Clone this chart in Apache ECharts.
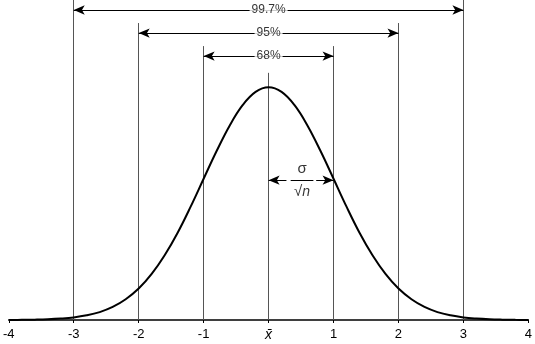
<!DOCTYPE html>
<html><head><meta charset="utf-8">
<script src="https://cdn.jsdelivr.net/npm/echarts@6/dist/echarts.min.js"></script>
<style>html,body{margin:0;padding:0;background:#fff}#c{width:535px;height:344px}</style>
</head><body><div id="c"></div>
<script>
// Curve samples (x in standard deviations, relative height)
const xValues = [-4,-3.8,-3.6,-3.4,-3.2,-3,-2.8,-2.6,-2.4,-2.2,-2,-1.8,-1.6,-1.4,-1.2,-1,-0.8,-0.6,-0.4,-0.2,0,0.2,0.4,0.6,0.8,1,1.2,1.4,1.6,1.8,2,2.2,2.4,2.6,2.8,3,3.2,3.4,3.6,3.8,4];
const curveValues = [0.0003,0.0007,0.0015,0.003,0.006,0.011,0.020,0.034,0.056,0.089,0.135,0.198,0.278,0.375,0.487,0.607,0.726,0.835,0.923,0.980,1.0,0.980,0.923,0.835,0.726,0.607,0.487,0.375,0.278,0.198,0.135,0.089,0.056,0.034,0.020,0.011,0.006,0.003,0.0015,0.0007,0.0003];
// Vertical guide lines: position and top height
const guideX = [-3,-2,-1,0,1,2,3];
const guideTop = [1.375,1.276,1.177,1.062,1.177,1.276,1.375];
// Interval arrows
const intervalLabels = ['99.7%','95%','68%'];
const intervalHalfWidth = [3,2,1];
const intervalY = [1.332,1.233,1.134];
// sigma / sqrt(n) arrow
const sigmaY = 0.601;
const tickLabels = {'-4':'-4','-3':'-3','-2':'-2','-1':'-1','0':'x̄','1':'1','2':'2','3':'3','4':'4'};

const FONT = '"Liberation Sans Narrow","Arial Narrow","Liberation Sans",sans-serif';
const chart = echarts.init(document.getElementById('c'));

const guideLines = guideX.map((x,i)=>[{coord:[x,0]},{coord:[x,guideTop[i]]}]);
const arrowLines = intervalLabels.map((lab,i)=>[
  {coord:[-intervalHalfWidth[i],intervalY[i]]},
  {coord:[intervalHalfWidth[i],intervalY[i]]}
]);
const arrowText = intervalLabels.map((lab,i)=>({value:[0,intervalY[i]],name:lab}));

chart.setOption({
  animation:false,
  grid:{left:6,right:5,top:0,bottom:24},
  xAxis:{type:'value',min:-4,max:4,interval:1,
    axisLine:{onZero:false,lineStyle:{color:'#000',width:1.5}},
    axisTick:{length:3,lineStyle:{color:'#000',width:1}},
    splitLine:{show:false},
    axisLabel:{color:'#000',fontSize:13,fontFamily:FONT,margin:8,
      formatter:v=>v===0?'{x|'+tickLabels['0']+'}':tickLabels[String(v)],
      rich:{x:{fontStyle:'italic',fontSize:14,fontFamily:FONT,color:'#000'}}}},
  yAxis:{type:'value',min:0,max:1.375,show:false},
  series:[
    {type:'line',data:xValues.map((x,i)=>[x,curveValues[i]]),smooth:0.4,symbol:'none',
      lineStyle:{color:'#000',width:2},z:5,
      markLine:{silent:true,symbol:'none',label:{show:false},
        lineStyle:{color:'#555',width:1,type:'solid'},data:guideLines}},
    {type:'line',data:[],markLine:{silent:true,symbol:['arrow','arrow'],symbolSize:[7,11],
      lineStyle:{color:'#000',width:1,type:'solid'},
      label:{show:false},
      data:arrowLines}},
    {type:'line',data:[],markLine:{silent:true,
      lineStyle:{color:'#000',width:1,type:'solid'},
      label:{show:false},
      data:[
        [{coord:[0,sigmaY],symbol:'arrow',symbolSize:[7,11]},{coord:[0.275,sigmaY],symbol:'none'}],
        [{coord:[0.733,sigmaY],symbol:'none'},{coord:[1,sigmaY],symbol:'arrow',symbolSize:[7,11]}],
        [{coord:[0.34,sigmaY],symbol:'none'},{coord:[0.69,sigmaY],symbol:'none'}]
      ]}},
    {type:'scatter',data:arrowText,symbol:'rect',symbolSize:0,silent:true,z:10,
      label:{show:true,position:'inside',formatter:'{b}',color:'#000',fontSize:12,fontFamily:FONT,
        backgroundColor:'#fff',padding:[1,2]}},
    {type:'scatter',data:[{value:[0.515,sigmaY],name:'s'}],symbol:'rect',symbolSize:0,silent:true,z:10,
      label:{show:true,position:'inside',color:'#000',fontFamily:FONT,
        formatter:'{s|σ}\n{n|√}{i|n}',
        rich:{s:{fontSize:15,lineHeight:23,fontFamily:FONT,align:'center',color:'#000'},
              n:{fontSize:15,lineHeight:23,fontFamily:FONT,color:'#000'},
              i:{fontSize:14,fontStyle:'italic',lineHeight:23,fontFamily:FONT,color:'#000'}}}}
  ]
});
</script></body></html>
